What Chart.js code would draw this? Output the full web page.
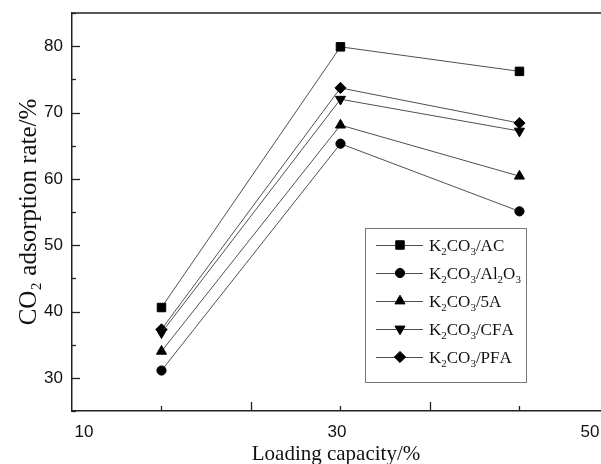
<!DOCTYPE html>
<html>
<head>
<meta charset="utf-8">
<script src="https://cdn.jsdelivr.net/npm/chart.js@4.4.1/dist/chart.umd.min.js"></script>
<style>
  html, body { margin: 0; padding: 0; background: #fff; overflow: hidden; }
  #wrap { width: 601px; height: 464px; }
</style>
</head>
<body>
<div id="wrap"><canvas id="chart"></canvas></div>
<script>
// data
const loadings = [15, 30, 45];
const xTickLabels = [10, 30, 50];
const seriesNames = ["K₂CO₃/AC", "K₂CO₃/Al₂O₃", "K₂CO₃/5A", "K₂CO₃/CFA", "K₂CO₃/PFA"];
const acRates = [40.6, 79.9, 76.2];
const al2o3Rates = [31.1, 65.3, 55.1];
const zeoliteRates = [34.0, 68.1, 60.4];
const cfaRates = [36.8, 72.0, 67.2];
const pfaRates = [37.3, 73.7, 68.4];

const allRates = [acRates, al2o3Rates, zeoliteRates, cfaRates, pfaRates];
const markers = [
  { style: "rect", radius: 6, rotation: 0 },
  { style: "circle", radius: 4.6, rotation: 0 },
  { style: "triangle", radius: 5.8, rotation: 0 },
  { style: "triangle", radius: 5.8, rotation: 180 },
  { style: "rectRot", radius: 5.6, rotation: 0 },
];

const SUBS = "₀₁₂₃₄₅₆₇₈₉";
const ink = "#111";
const axisColor = "#222";
const tickStep = 7.5;

// draws text where unicode subscript digits are lowered and shrunk
function drawSubText(ctx, text, x, y, size, family) {
  let cx = x;
  for (const ch of text) {
    const i = SUBS.indexOf(ch);
    if (i >= 0) {
      ctx.font = `${Math.round(size * 0.62)}px ${family}`;
      ctx.fillText(String(i), cx, y + size * 0.22);
      cx += ctx.measureText(String(i)).width;
    } else {
      ctx.font = `${size}px ${family}`;
      ctx.fillText(ch, cx, y);
      cx += ctx.measureText(ch).width;
    }
  }
}

const frameAndTicks = {
  id: "frameAndTicks",
  afterDraw(chart) {
    const { ctx, chartArea: a, scales } = chart;
    ctx.save();
    ctx.strokeStyle = axisColor;
    ctx.lineWidth = 1.5;
    ctx.beginPath();
    ctx.moveTo(a.left, a.top);
    ctx.lineTo(a.right + 1, a.top);
    ctx.stroke();

    ctx.lineWidth = 1.3;
    const ys = scales.y;
    ys.ticks.forEach((t) => {
      const py = Math.round(ys.getPixelForValue(t.value)) + 0.5;
      const len = t.value % 10 === 0 ? 8 : 4;
      ctx.beginPath();
      ctx.moveTo(a.left, py);
      ctx.lineTo(a.left + len, py);
      ctx.stroke();
    });

    const xs = scales.x;
    for (let k = 1; xs.min + k * tickStep < xs.max; k++) {
      const px = Math.round(xs.getPixelForValue(xs.min + k * tickStep)) + 0.5;
      const len = k % 2 === 0 ? 9 : 5;
      ctx.beginPath();
      ctx.moveTo(px, a.bottom);
      ctx.lineTo(px, a.bottom - len);
      ctx.stroke();
    }
    ctx.restore();
  },
};

const boxLegend = {
  id: "boxLegend",
  afterDraw(chart) {
    const { ctx, chartArea: a } = chart;
    const w = 161, h = 154;
    const left = a.right - 74 - w;
    const top = a.bottom - 29 - h;
    ctx.save();
    ctx.strokeStyle = "#777";
    ctx.lineWidth = 1;
    ctx.strokeRect(left + 0.5, top + 0.5, w, h);
    chart.data.datasets.forEach((ds, i) => {
      const cy = top + 17 + i * 28;
      ctx.strokeStyle = "#505050";
      ctx.lineWidth = 1;
      ctx.beginPath();
      ctx.moveTo(left + 11, cy + 0.5);
      ctx.lineTo(left + 58, cy + 0.5);
      ctx.stroke();
      ctx.fillStyle = "#000";
      ctx.strokeStyle = "#000";
      Chart.helpers.drawPoint(ctx, {
        pointStyle: ds.pointStyle,
        radius: ds.pointRadius,
        rotation: ds.pointRotation,
        borderWidth: 1,
      }, left + 35, cy);
      ctx.fillStyle = ink;
      ctx.textBaseline = "alphabetic";
      ctx.textAlign = "left";
      drawSubText(ctx, ds.label, left + 64, cy + 6, 17, '"Liberation Serif", serif');
    });
    ctx.restore();
  },
};

const datasets = seriesNames.map((name, i) => ({
  label: name,
  data: loadings.map((x, j) => ({ x, y: allRates[i][j] })),
  xAxisID: "x",
  yAxisID: "y",
  borderColor: "#505050",
  borderWidth: 1,
  pointStyle: markers[i].style,
  pointRadius: markers[i].radius,
  pointRotation: markers[i].rotation,
  pointBackgroundColor: "#000",
  pointBorderColor: "#000",
  pointBorderWidth: 1,
  tension: 0,
}));

const tickFont = { family: '"Liberation Sans", Arial, sans-serif', size: 17 };
const titleFamily = '"Liberation Serif", "Times New Roman", serif';

new Chart(document.getElementById("chart"), {
  type: "line",
  data: { datasets },
  options: {
    responsive: true,
    maintainAspectRatio: false,
    animation: false,
    layout: { autoPadding: false, padding: { top: 13, right: 1, left: 0, bottom: 0 } },
    plugins: { legend: { display: false }, tooltip: { enabled: false } },
    scales: {
      x: { type: "linear", axis: "x", display: false, min: 7.5, max: 51.75 },
      xAxis: {
        type: "linear",
        axis: "x",
        position: "bottom",
        min: 9.05,
        max: 50.8,
        afterBuildTicks: (s) => { s.ticks = xTickLabels.map((v) => ({ value: v })); },
        afterFit: (s) => { s.height = 53; s.paddingLeft = 0; s.paddingRight = 0; },
        grid: { display: false, drawTicks: true, tickLength: 11 },
        border: { color: axisColor, width: 1.5 },
        ticks: { color: ink, font: tickFont, padding: 0, maxRotation: 0, autoSkip: false },
        title: { display: true, text: "Loading capacity/%", color: ink, font: { family: titleFamily, size: 21 }, padding: { top: 0, bottom: -3 } },
      },
      y: {
        type: "linear",
        position: "left",
        min: 25,
        max: 85,
        afterFit: (s) => { s.width = 72; s.paddingTop = 0; s.paddingBottom = 0; },
        grid: { display: false, drawTicks: false },
        border: { color: axisColor, width: 1.5 },
        ticks: {
          stepSize: 5,
          color: ink,
          font: tickFont,
          padding: 9,
          callback: (v) => (v % 10 === 0 ? v : ""),
        },
        title: { display: true, text: "CO₂ adsorption rate/%", color: ink, font: { family: titleFamily, size: 25 }, padding: { top: 14, bottom: 0 } },
      },
    },
  },
  plugins: [frameAndTicks, boxLegend],
});
</script>
</body>
</html>
